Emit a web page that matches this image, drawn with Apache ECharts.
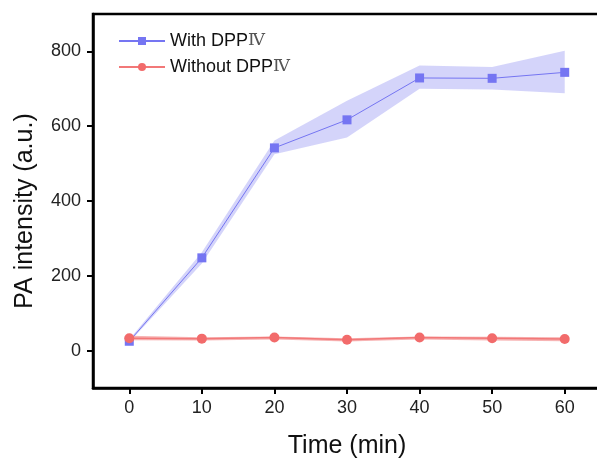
<!DOCTYPE html>
<html>
<head>
<meta charset="utf-8">
<script src="https://cdn.jsdelivr.net/npm/echarts@6/dist/echarts.min.js"></script>
<style>
html,body{margin:0;padding:0;background:#fff;}
#c{width:597px;height:458px;}
</style>
</head>
<body>
<div id="c"></div>
<script>
var time = [0, 10, 20, 30, 40, 50, 60];
var withMean = [25, 248, 542, 617, 729, 728, 744];
var withLow = [22, 233, 525, 570, 700, 698, 688];
var withHigh = [30, 263, 562, 668, 762, 758, 802];
var withoutMean = [33, 32, 35, 29, 35, 33, 31];
var withoutLow = [28, 27, 30, 24, 30, 27, 25];
var withoutHigh = [40, 36, 38, 33, 38, 37, 36];
var xTicks = [0, 10, 20, 30, 40, 50, 60];
var yTicks = [0, 200, 400, 600, 800];
var nameWith = 'With DPP\u2163';
var nameWithout = 'Without DPP\u2163';
var xTitle = 'Time (min)';
var yTitle = 'PA intensity (a.u.)';

function pairs(vals) { return time.map(function (t, i) { return [t, vals[i]]; }); }

function bandSeries(lo, hi, color) {
  return {
    type: 'custom', silent: true, z: 1,
    data: [[time[0], lo[0]]],
    encode: {x: 0, y: 1},
    renderItem: function (params, api) {
      var pts = [];
      for (var i = 0; i < time.length; i++) pts.push(api.coord([time[i], hi[i]]));
      for (var j = time.length - 1; j >= 0; j--) pts.push(api.coord([time[j], lo[j]]));
      return {type: 'polygon', shape: {points: pts}, style: {fill: color}};
    }
  };
}

var chart = echarts.init(document.getElementById('c'), null, {renderer: 'canvas'});
var font = 'Liberation Sans, Arial, sans-serif';
chart.setOption({
  animation: false,
  backgroundColor: '#fff',
  grid: {left: 93, top: 14, width: 508, height: 374, containLabel: false, outerBoundsMode: 'none',
    show: true, borderColor: '#000', borderWidth: 2.5, backgroundColor: 'transparent'},
  legend: {
    data: [nameWith, nameWithout],
    orient: 'vertical', left: 113, top: 27, itemWidth: 46, itemHeight: 10, itemGap: 8,
    textStyle: {fontFamily: font, fontSize: 18, color: '#111', rich: {r: {fontFamily: 'DejaVu Serif, Liberation Serif, serif', fontSize: 17, color: '#555'}}},
    formatter: function (n) { return n.replace('\u2163', '{r|\u2163}'); }
  },
  graphic: [{
    type: 'text', x: 25, y: 211, rotation: Math.PI / 2,
    style: {text: yTitle, fontFamily: font, fontSize: 25, fill: '#111', align: 'center', verticalAlign: 'middle'}
  }],
  xAxis: {
    type: 'value', min: -5, max: 65,
    name: xTitle, nameLocation: 'middle', nameGap: 46,
    nameTextStyle: {fontFamily: font, fontSize: 25, color: '#111'},
    axisLine: {show: true, onZero: false, lineStyle: {color: '#000', width: 2.5}},
    axisTick: {show: true, length: 6, lineStyle: {width: 2, color: '#000'}, customValues: xTicks},
    axisLabel: {fontFamily: font, fontSize: 18, color: '#222', margin: 11, customValues: xTicks},
    splitLine: {show: false}
  },
  yAxis: {
    type: 'value', min: -100, max: 900,
    axisLine: {show: true, onZero: false, lineStyle: {color: '#000', width: 2.5}},
    axisTick: {show: true, length: 6, lineStyle: {width: 2, color: '#000'}, customValues: yTicks},
    axisLabel: {fontFamily: font, fontSize: 18, color: '#222', margin: 12, customValues: yTicks},
    splitLine: {show: false}
  },
  series: [
    bandSeries(withLow, withHigh, 'rgba(160,160,245,0.45)'),
    bandSeries(withoutLow, withoutHigh, 'rgba(242,130,130,0.6)'),
    {name: nameWith, type: 'line', data: pairs(withMean), symbol: 'rect', symbolSize: 9,
      itemStyle: {color: '#7575f2'}, lineStyle: {color: '#7575f2', width: 1}, z: 3},
    {name: nameWithout, type: 'line', data: pairs(withoutMean), symbol: 'circle', symbolSize: 10,
      itemStyle: {color: '#f26b6b'}, lineStyle: {color: '#f27878', width: 1.5}, z: 4}
  ]
});
</script>
</body>
</html>
